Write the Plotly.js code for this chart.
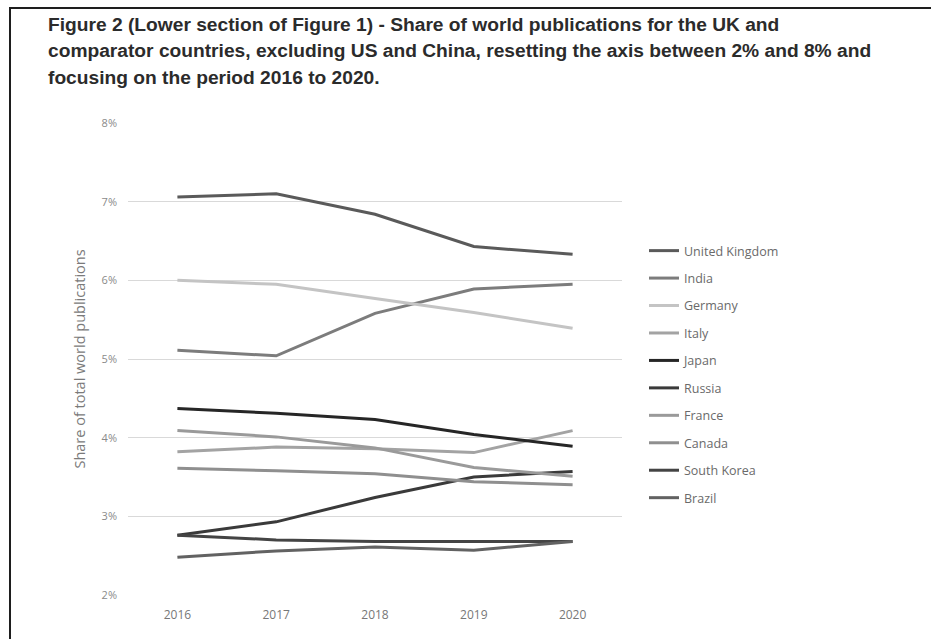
<!DOCTYPE html>
<html>
<head>
<meta charset="utf-8">
<script src="https://cdn.plot.ly/plotly-3.0.1.min.js"></script>
<style>
  html, body { margin: 0; padding: 0; background: #fff; }
  #wrap { position: relative; width: 931px; height: 639px; overflow: hidden; }
  #chart { width: 931px; height: 639px; }
  #frame { position: absolute; left: 9px; top: 7px; width: 1000px; height: 700px;
           border-left: 2px solid #1e1e1e; border-top: 2px solid #1e1e1e; pointer-events: none; }
</style>
</head>
<body>
<div id="wrap">
  <div id="chart"></div>
  <div id="frame"></div>
</div>
<script>
const years = ['2016', '2017', '2018', '2019', '2020'];
const countries = ['United Kingdom', 'India', 'Germany', 'Italy', 'Japan', 'Russia', 'France', 'Canada', 'South Korea', 'Brazil'];
const uk         = [7.06, 7.10, 6.84, 6.43, 6.33];
const india      = [5.11, 5.04, 5.58, 5.89, 5.95];
const germany    = [6.00, 5.95, 5.77, 5.59, 5.39];
const italy      = [3.82, 3.88, 3.86, 3.81, 4.09];
const japan      = [4.37, 4.31, 4.23, 4.04, 3.89];
const russia     = [2.76, 2.93, 3.24, 3.50, 3.57];
const france     = [4.09, 4.01, 3.87, 3.62, 3.51];
const canada     = [3.61, 3.58, 3.54, 3.44, 3.40];
const southKorea = [2.76, 2.70, 2.68, 2.68, 2.68];
const brazil     = [2.48, 2.56, 2.61, 2.57, 2.68];
const yTicks = [2, 3, 4, 5, 6, 7, 8];
const yTickText = ['2%', '3%', '4%', '5%', '6%', '7%', '8%'];

const seriesValues = [uk, india, germany, italy, japan, russia, france, canada, southKorea, brazil];
const colors = ['#5a5a5a', '#7c7c7c', '#c4c4c4', '#a3a3a3', '#262626', '#3a3a3a', '#9a9a9a', '#8f8f8f', '#444444', '#626262'];

const traces = countries.map((name, i) => ({
  type: 'scatter',
  mode: 'lines',
  name: name,
  x: years,
  y: seriesValues[i],
  legendgroup: 'g' + i,
  line: { color: colors[i], width: 3 },
  hoverinfo: 'skip'
}));

const H = 472; // plot height in px
function py(p) { return (595 - p) / H; }

const titleLines = [
  'Figure 2 (Lower section of Figure 1) - Share of world publications for the UK and',
  'comparator countries, excluding US and China, resetting the axis between 2% and 8% and',
  'focusing on the period 2016 to 2020.'
];
const titleY = [24, 51, 78];
const annotations = titleLines.map((t, i) => ({
  text: '<b>' + t + '</b>',
  xref: 'paper', yref: 'paper',
  x: (46 - 128) / 494, y: py(titleY[i]),
  xanchor: 'left', yanchor: 'middle',
  showarrow: false,
  font: { family: 'Liberation Sans, Arial, sans-serif', size: 19.2, color: '#2b2b2b' }
}));

const layout = {
  width: 931, height: 639,
  margin: { l: 128, r: 309, t: 123, b: 44, pad: 0 },
  paper_bgcolor: '#ffffff',
  plot_bgcolor: '#ffffff',
  showlegend: true,
  legend: {
    x: (644 - 128) / 494, xanchor: 'left',
    y: py(236), yanchor: 'top',
    traceorder: 'grouped',
    tracegroupgap: 8.2,
    itemwidth: 30,
    font: { family: 'Open Sans, sans-serif', size: 12.5, color: '#6a6a6a' },
    bgcolor: 'rgba(0,0,0,0)'
  },
  xaxis: {
    type: 'category',
    range: [-0.5, 4.5],
    showgrid: false,
    zeroline: false,
    showline: false,
    ticks: '',
    tickfont: { family: 'Open Sans, sans-serif', size: 12, color: '#777777' },
    ticklabelstandoff: 11,
    fixedrange: true
  },
  yaxis: {
    range: [2, 8],
    tickvals: yTicks,
    ticktext: yTickText,
    showgrid: true,
    gridcolor: '#d9d9d9',
    gridwidth: 1,
    zeroline: false,
    showline: false,
    ticks: '',
    ticklabelstandoff: 10,
    tickfont: { family: 'Open Sans, sans-serif', size: 11, color: '#8a8a8a' },
    title: { text: 'Share of total world publications', standoff: 12,
             font: { family: 'Open Sans, sans-serif', size: 14.5, color: '#7a7a7a' } },
    fixedrange: true
  },
  annotations: annotations
};

Plotly.newPlot('chart', traces, layout, { displayModeBar: false, staticPlot: true });
</script>
</body>
</html>
